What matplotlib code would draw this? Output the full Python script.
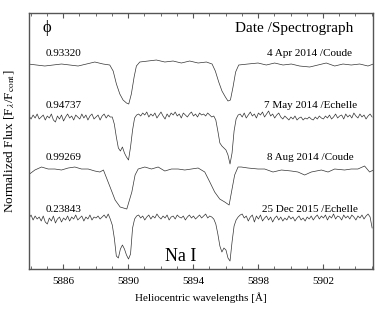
import numpy as np
import matplotlib
matplotlib.use("Agg")
import matplotlib.pyplot as plt
from matplotlib.ticker import MultipleLocator

plt.rcParams["font.family"] = ["Liberation Serif", "DejaVu Serif"]
plt.rcParams["mathtext.fontset"] = "stix"

# --- Coude spectra (smooth), sampled wavelength / flux pairs ---
apr_wl = [5883.85, 5884.36, 5884.87, 5885.38, 5885.90, 5886.41, 5886.92, 5887.44, 5887.95, 5888.46,
          5888.87, 5889.08, 5889.28, 5889.49, 5889.69, 5889.90, 5890.04, 5890.20, 5890.37, 5890.51,
          5890.72, 5891.23, 5891.74, 5892.26, 5892.77, 5893.28, 5893.79, 5894.31, 5894.82, 5895.17,
          5895.37, 5895.58, 5895.78, 5895.99, 5896.15, 5896.30, 5896.46, 5896.62, 5896.81, 5897.38,
          5898.00, 5898.51, 5899.02, 5899.54, 5900.05, 5900.56, 5901.18, 5901.69, 5902.20, 5902.72,
          5903.23, 5903.74, 5904.26, 5904.77, 5905.10]
apr_flux = [1.00, 0.99, 0.98, 0.99, 1.00, 0.99, 0.98, 1.00, 1.02, 1.00,
            0.99, 0.93, 0.80, 0.70, 0.64, 0.61, 0.60, 0.70, 0.87, 0.98,
            1.02, 1.03, 1.04, 1.02, 1.03, 1.01, 1.03, 1.01, 1.02, 1.00,
            0.93, 0.82, 0.73, 0.67, 0.63, 0.64, 0.77, 0.92, 0.99, 1.00,
            1.01, 0.99, 1.01, 0.99, 1.00, 0.98, 0.97, 0.99, 1.01, 0.98,
            1.00, 0.99, 1.00, 0.98, 1.00]

aug_wl = [5883.85, 5884.26, 5884.67, 5885.08, 5885.49, 5885.90, 5886.31, 5886.72, 5887.13, 5887.54,
          5887.95, 5888.26, 5888.48, 5888.89, 5889.20, 5889.51, 5889.92, 5890.23, 5890.43, 5890.62,
          5891.03, 5891.44, 5891.85, 5892.26, 5892.67, 5893.08, 5893.49, 5893.90, 5894.31, 5894.72,
          5895.03, 5895.33, 5895.64, 5895.95, 5896.22, 5896.40, 5896.56, 5896.77, 5896.97, 5897.38,
          5898.00, 5898.41, 5898.92, 5899.44, 5900.05, 5900.46, 5900.87, 5901.28, 5901.90, 5902.31,
          5902.72, 5903.33, 5903.74, 5904.15, 5904.56, 5904.87, 5905.10]
aug_flux = [0.97, 1.02, 1.05, 1.03, 1.03, 1.02, 1.04, 1.05, 1.03, 1.03,
            1.01, 1.00, 1.02, 0.85, 0.72, 0.65, 0.63, 0.80, 0.97, 1.03,
            1.05, 1.03, 1.05, 1.01, 1.03, 1.03, 1.02, 1.03, 1.04, 1.00,
            0.90, 0.80, 0.73, 0.70, 0.67, 0.83, 0.97, 1.05, 1.05, 1.04,
            1.03, 1.03, 1.00, 1.02, 1.01, 1.00, 0.97, 1.00, 1.02, 1.00,
            1.03, 1.02, 1.03, 1.03, 1.06, 1.00, 1.02]

# --- Echelle spectra (noisy), regular grid ---
ech_start = 5883.9
ech_step = 0.125
may_flux = [1.01, 0.98, 1.02, 0.99, 1.03, 0.98, 1.00, 1.02, 0.97, 1.01,
            0.99, 1.03, 0.97, 0.95, 1.01, 0.98, 1.02, 0.96, 1.00, 1.03,
            0.99, 1.01, 0.97, 1.02, 1.00, 0.98, 1.03, 0.99, 1.02, 0.97,
            1.01, 1.03, 0.98, 1.00, 1.02, 0.97, 1.01, 1.03, 0.99, 1.02, 1.00,
            1.00, 0.93, 0.80, 0.69, 0.66, 0.70, 0.64, 0.60, 0.57, 0.70, 0.87, 0.99, 1.02,
            1.03, 1.01, 1.04, 1.02, 1.05, 1.00, 1.03, 1.01, 1.04, 0.99,
            1.02, 1.05, 1.01, 0.98, 1.03, 1.00, 1.04, 1.02, 1.05, 1.01,
            1.03, 0.99, 1.04, 1.02, 1.00, 1.03, 1.05, 1.01, 1.03, 1.00,
            1.04, 1.02, 1.03, 1.01, 1.04, 1.02, 1.00,
            1.01, 0.97, 0.86, 0.74, 0.71, 0.69, 0.67, 0.62, 0.53, 0.64, 0.86, 0.98, 1.02,
            1.03, 1.00, 1.04, 0.99, 1.02, 1.05, 1.01, 1.03, 0.99, 1.04,
            1.02, 1.05, 1.00, 1.03, 1.06, 1.01, 1.03, 0.99, 1.02, 1.04,
            1.00, 0.98, 1.01, 0.99, 0.97, 1.00, 0.98, 1.01, 0.97, 0.99,
            1.00, 0.97, 0.99, 0.98, 1.00, 0.98, 0.97, 1.00, 0.98, 1.01,
            0.99, 0.98, 1.01, 0.99, 1.02, 0.98, 1.00, 1.03, 0.99, 1.01,
            1.02, 0.98, 1.03, 1.00, 1.02, 0.99, 1.04, 1.01, 0.99, 1.03,
            1.00, 1.02, 0.98, 1.01, 1.03, 1.00]
dec_flux = [1.00, 1.03, 0.98, 1.02, 0.99, 1.01, 0.97, 1.02, 0.96, 0.94,
            1.00, 0.97, 1.02, 0.95, 0.99, 1.01, 0.96, 1.00, 0.98, 1.02,
            0.97, 1.01, 0.99, 1.03, 0.98, 1.00, 1.02, 0.97, 1.01, 0.99,
            1.03, 0.98, 1.01, 1.00, 1.02, 0.99, 1.01, 1.03, 1.00, 1.04, 0.99,
            0.93, 0.80, 0.62, 0.60, 0.69, 0.73, 0.69, 0.63, 0.59, 0.64, 0.90, 0.99, 1.02,
            1.03, 1.00, 1.02, 0.98, 1.01, 1.03, 0.99, 1.02, 1.00, 1.04,
            1.01, 0.99, 1.02, 1.00, 1.03, 0.98, 1.01, 1.02, 0.99, 1.03,
            1.01, 1.00, 1.02, 0.98, 1.01, 1.03, 1.00, 1.02, 0.99, 1.01,
            1.03, 1.00, 1.02, 1.04, 1.00, 1.02, 1.01,
            0.99, 0.94, 0.84, 0.72, 0.66, 0.70, 0.68, 0.60, 0.57, 0.76, 0.92, 0.98, 1.01,
            1.03, 1.04, 1.00, 1.02, 0.97, 1.01, 1.03, 0.96, 1.02, 0.99,
            1.03, 0.97, 1.00, 1.02, 0.98, 1.01, 0.96, 1.00, 1.02, 0.98,
            1.01, 0.97, 1.00, 0.98, 1.02, 0.99, 1.01, 0.97, 1.00, 1.02,
            0.98, 1.00, 0.97, 1.01, 0.99, 1.02, 0.98, 1.01, 1.03, 0.99,
            1.02, 1.00, 1.03, 0.98, 1.02, 1.00, 1.04, 0.99, 1.02, 1.01,
            0.98, 1.03, 1.00, 1.02, 0.99, 1.03, 1.01, 0.98, 1.02, 1.00,
            1.03, 0.99, 1.02, 1.04, 1.01, 0.90]

phases = ["0.93320", "0.94737", "0.99269", "0.23843"]
dates = ["4 Apr 2014 /Coude", "7 May 2014 /Echelle", "8 Aug 2014 /Coude", "25 Dec 2015 /Echelle"]
offsets = [1.05, 0.52, -0.03, -0.49]
wl_ticks = [5886, 5890, 5894, 5898, 5902]

may_wl = ech_start + ech_step * np.arange(len(may_flux))
dec_wl = ech_start + ech_step * np.arange(len(dec_flux))
spectra = [(apr_wl, apr_flux), (may_wl, may_flux), (aug_wl, aug_flux), (dec_wl, dec_flux)]

fig = plt.figure(figsize=(3.82, 3.15), dpi=100)
ax = fig.add_axes([0.076, 0.146, 0.9005, 0.8127])

for (wl, fl), off in zip(spectra, offsets):
    ax.plot(wl, np.asarray(fl) + off, color="#333333", linewidth=0.5)

ax.set_xlim(5883.9, 5905.08)
ax.set_ylim(0, 2.56)
ax.set_xticks(wl_ticks)
ax.xaxis.set_minor_locator(MultipleLocator(1))
ax.set_yticks([])
ax.tick_params(axis="x", which="both", direction="in", top=True, labelsize=8,
               color="#555555", pad=6)
ax.tick_params(axis="x", which="major", length=3.5, width=0.8)
ax.tick_params(axis="x", which="minor", length=2, width=0.6)
for sp in ax.spines.values():
    sp.set_color("#555555")
    sp.set_linewidth(1.0)

ax.set_xlabel("Heliocentric wavelengths [Å]", fontsize=8, labelpad=4)
ax.set_ylabel(r"Normalized Flux [F$_\lambda$/F$_{\rm cont}$]", fontsize=9.5)
ax.yaxis.set_label_coords(-0.036, 0.5)

ax.text(0.052, 0.941, "ϕ", transform=ax.transAxes, fontsize=12,
        ha="center", va="center")
ax.text(0.942, 0.941, "Date /Spectrograph", transform=ax.transAxes, fontsize=11,
        ha="right", va="center")

label_y = [0.840, 0.637, 0.4375, 0.234]
date_x = [0.692, 0.683, 0.692, 0.677]
for ph, dt, ly, dx in zip(phases, dates, label_y, date_x):
    ax.text(0.049, ly, ph, transform=ax.transAxes, fontsize=8, ha="left", va="center")
    ax.text(dx, ly, dt, transform=ax.transAxes, fontsize=8, ha="left", va="center")

ax.text(0.442, 0.047, "Na I", transform=ax.transAxes, fontsize=13,
        ha="center", va="center")

fig.savefig("out.png", dpi=100)
